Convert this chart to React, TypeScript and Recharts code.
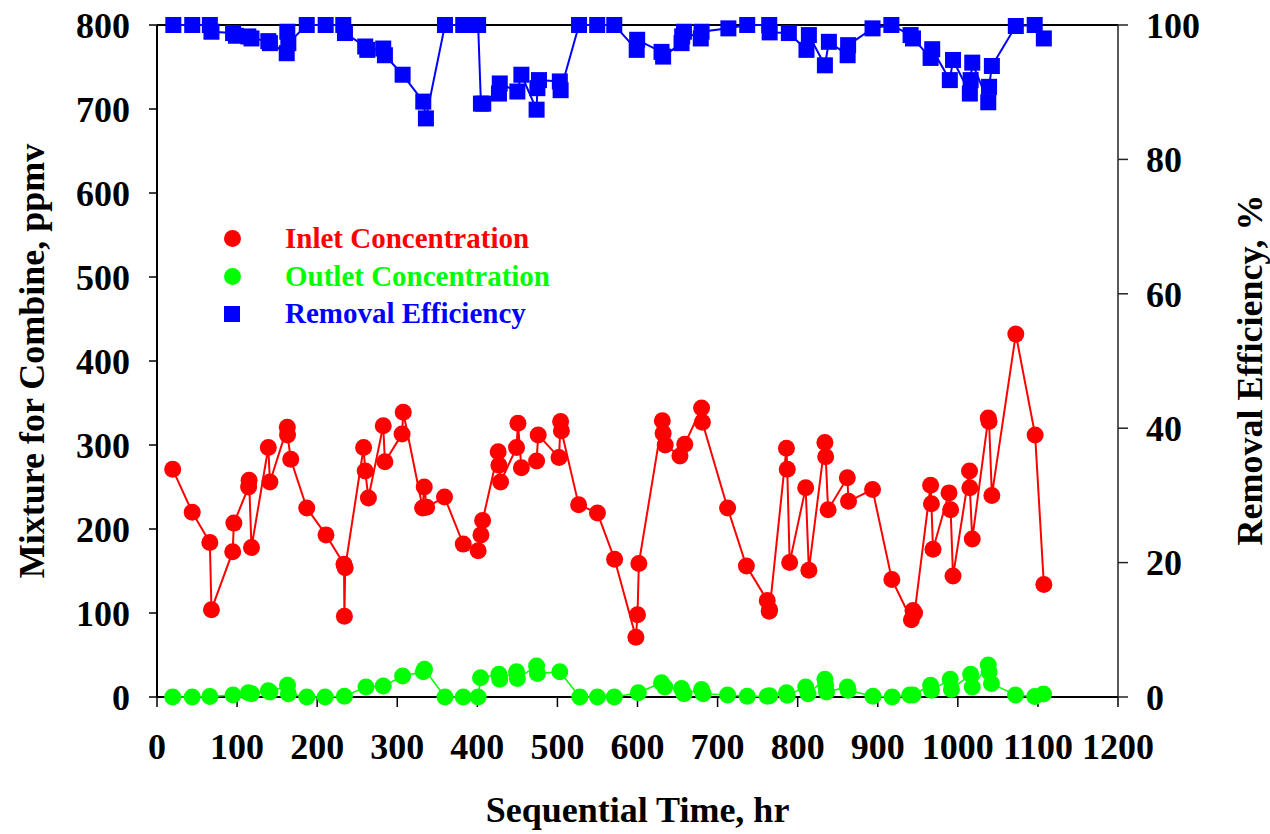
import {
  ComposedChart, Scatter, XAxis, YAxis, Legend, ReferenceLine,
} from "recharts";

// sequential time (hr) / value pairs
const inlet = [
  [19.6, 271], [44, 220], [66, 184], [68, 104], [94.5, 173], [96, 207], [114.4, 250], [115, 258],
  [118, 178], [139, 297], [141, 256], [162.7, 321], [163, 312], [167, 283], [187, 225], [211, 193],
  [233.5, 158], [234, 96], [235, 154], [258, 297], [260, 269], [264, 237], [282.5, 323], [284.6, 280],
  [306, 313], [307.5, 339], [331.7, 225], [333.7, 250], [336.7, 226], [359, 238], [382.4, 182],
  [401, 174], [404.5, 193], [406.6, 210], [426, 292], [427, 276], [429, 256], [449, 297], [450.7, 326],
  [455, 273], [474, 281], [476, 312], [502, 285], [504, 328], [505, 317], [526.5, 229], [550, 219],
  [571.4, 164], [598, 71], [600, 98], [601.7, 159], [631, 329], [632, 314], [634.6, 300], [653, 287],
  [659, 301], [680, 344], [681, 327], [712.5, 225], [736, 156], [762, 115], [764.5, 102], [765, 104],
  [786, 296], [787, 271], [790, 160], [810, 249], [814, 151], [834, 303], [835, 286], [838, 223],
  [862, 261], [863.5, 233], [893.5, 247], [917.6, 140], [942, 92], [944, 103], [946, 100], [966, 252],
  [967, 230], [969, 176], [989, 243], [991, 223], [994, 144], [1014.6, 269], [1015, 249], [1018, 188],
  [1038, 332], [1039, 328], [1042.5, 240], [1072.4, 432], [1096.5, 312], [1107.4, 134],
].map(([t, v]) => ({ t, v }));

const outlet = [
  [19.6, 0], [44, 0], [66, 0.5], [95, 2.4], [114, 5], [118, 4], [139, 7.5], [141, 6], [163, 14],
  [164, 4], [187, 0], [210, 0], [234, 1], [261, 12], [282.5, 13], [306.7, 25], [332.5, 30], [334, 33],
  [359.6, 0], [382.4, 0], [401, 0], [404, 23], [427, 27], [428, 21], [449, 30], [450, 22], [474, 37],
  [475, 28], [503, 30], [528, 0], [550, 0], [571, 0], [601, 5], [630, 17], [634, 12], [655, 10],
  [658, 4], [680, 9], [682, 4], [712.5, 2.4], [737, 1], [762, 1], [765, 1.5], [786, 5], [787, 2],
  [810, 12], [813, 4], [834, 21], [835, 14], [836, 6], [862, 12], [863, 8], [894, 1], [918, 0],
  [940, 2.4], [944, 2.4], [966, 14], [967, 8], [990.5, 21], [992, 9], [1016, 27], [1018, 12],
  [1038, 38], [1039, 30], [1042, 16], [1072, 2.4], [1096, 0.5], [1107, 3.6],
].map(([t, v]) => ({ t, v }));

const removal = [
  [20.4, 100], [44, 100], [66, 100], [68, 99], [95, 98.8], [98.6, 98.4], [114, 98.3], [118, 98],
  [139, 97.6], [141, 97.3], [162, 95.8], [162.7, 99], [164, 97.3], [187, 100], [210.6, 100],
  [232.6, 100], [234.7, 98.8], [260, 96.8], [262.6, 96.3], [282.5, 96.5], [284.6, 95.5], [306.7, 92.6],
  [332.5, 88.6], [335.8, 86.1], [359.6, 100], [382.4, 100], [401, 100], [404.5, 88.3], [407.4, 88.3],
  [427, 89.8], [428, 91.3], [450, 90.1], [455, 92.6], [474, 87.4], [475, 90.6], [477, 91.8],
  [503, 91.6], [504, 90.3], [527, 100], [549.7, 100], [571, 100], [599, 96.3], [599.6, 97.8],
  [630, 96], [632, 95.3], [655, 97.3], [655.8, 98.3], [658, 99], [679, 98], [680, 99], [713.5, 99.5],
  [737, 100], [764.5, 100], [765, 98.9], [789, 98.8], [811, 96.3], [814, 98.5], [834, 94], [839, 97.5],
  [862.4, 95.5], [863, 97], [893.5, 99.5], [917, 100], [941, 98.5], [944, 98], [966, 95.1],
  [968, 96.4], [990, 91.8], [994, 94.8], [1015, 89.8], [1016, 91.8], [1018, 94.4], [1038, 88.5],
  [1039, 90.8], [1042.5, 93.9], [1072.4, 99.85], [1096, 100], [1107.4, 98],
].map(([t, v]) => ({ t, v }));

const xTicks = [0, 100, 200, 300, 400, 500, 600, 700, 800, 900, 1000, 1100, 1200];
const leftTicks = [0, 100, 200, 300, 400, 500, 600, 700, 800];
const rightTicks = [0, 20, 40, 60, 80, 100];

const LEGEND = [
  { label: "Inlet Concentration", color: "#ff0000", shape: "circle" },
  { label: "Outlet Concentration", color: "#00ff00", shape: "circle" },
  { label: "Removal Efficiency", color: "#0000ff", shape: "square" },
];

const FONT = "'Liberation Serif', 'Times New Roman', serif";
const tickStyle = { fontFamily: FONT, fontWeight: "bold", fontSize: 36, fill: "#000" };

const dot = (color: string) => (p: any) => <circle cx={p.cx} cy={p.cy} r={8.5} fill={color} />;
const square = (p: any) => <rect x={p.cx - 8} y={p.cy - 8} width={16} height={16} fill="#0000ff" />;

const LegendBox = () => (
  <div style={{ fontFamily: FONT, fontWeight: "bold", fontSize: 29 }}>
    {LEGEND.map((l) => (
      <div key={l.label} style={{ display: "flex", alignItems: "center", height: 37.5, color: l.color }}>
        <div style={{ width: 84, paddingLeft: 23, boxSizing: "border-box", display: "flex" }}>
          <div style={{
            width: l.shape === "circle" ? 17 : 16, height: l.shape === "circle" ? 17 : 16,
            borderRadius: l.shape === "circle" ? "50%" : 0, background: l.color,
          }} />
        </div>
        <span style={{ whiteSpace: "nowrap" }}>{l.label}</span>
      </div>
    ))}
  </div>
);

export default function App() {
  return (
    <div style={{ position: "absolute", left: 0, top: 0, background: "#fff" }}>
      <ComposedChart width={1270} height={834} margin={{ top: 25, right: 0, bottom: 0, left: 0 }}>
        <XAxis
          type="number" dataKey="t" domain={[0, 1200]} ticks={xTicks} height={137}
          tick={tickStyle} tickSize={10} tickMargin={26}
          axisLine={{ stroke: "#000", strokeWidth: 2 }} tickLine={{ stroke: "#000", strokeWidth: 1.5 }}
          label={{
            content: ({ viewBox }: any) => (
              <text x={viewBox.x + viewBox.width / 2} y={822} textAnchor="middle"
                style={{ fontFamily: FONT, fontWeight: "bold", fontSize: 36 }} fill="#000">
                Sequential Time, hr
              </text>
            ),
          }}
        />
        <YAxis
          yAxisId="left" type="number" dataKey="v" domain={[0, 800]} ticks={leftTicks} width={157}
          tick={tickStyle} tickSize={8} tickMargin={19}
          axisLine={{ stroke: "#000", strokeWidth: 2 }} tickLine={{ stroke: "#000", strokeWidth: 1.5 }}
          label={{
            content: () => (
              <text x={32} y={361} textAnchor="middle" dominantBaseline="central" transform="rotate(-90 32 361)"
                style={{ fontFamily: FONT, fontWeight: "bold", fontSize: 36 }} fill="#000">
                Mixture for Combine, ppmv
              </text>
            ),
          }}
        />
        <YAxis
          yAxisId="right" orientation="right" type="number" dataKey="v" domain={[0, 100]} ticks={rightTicks}
          width={152} tick={tickStyle} tickSize={10} tickMargin={18}
          axisLine={{ stroke: "#222", strokeWidth: 1.5 }} tickLine={{ stroke: "#222", strokeWidth: 1.5 }}
          label={{
            content: () => (
              <text x={1250} y={370} textAnchor="middle" dominantBaseline="central" transform="rotate(-90 1250 370)"
                style={{ fontFamily: FONT, fontWeight: "bold", fontSize: 36 }} fill="#000">
                Removal Efficiency, %
              </text>
            ),
          }}
        />
        <ReferenceLine yAxisId="left" y={800} stroke="#000" strokeWidth={2} />
        <Legend
          layout="vertical" align="center" verticalAlign="middle"
          wrapperStyle={{ left: 201, top: 220, width: 360, height: 120 }}
          content={() => <LegendBox />}
        />
        <Scatter yAxisId="left" data={outlet} fill="#00ff00" shape={dot("#00ff00")}
          line={{ stroke: "#00ff00", strokeWidth: 1.5 }} isAnimationActive={false} />
        <Scatter yAxisId="left" data={inlet} fill="#ff0000" shape={dot("#ff0000")}
          line={{ stroke: "#ff0000", strokeWidth: 2 }} isAnimationActive={false} />
        <Scatter yAxisId="right" data={removal} fill="#0000ff" shape={square}
          line={{ stroke: "#0000ff", strokeWidth: 2 }} isAnimationActive={false} />
      </ComposedChart>
    </div>
  );
}
